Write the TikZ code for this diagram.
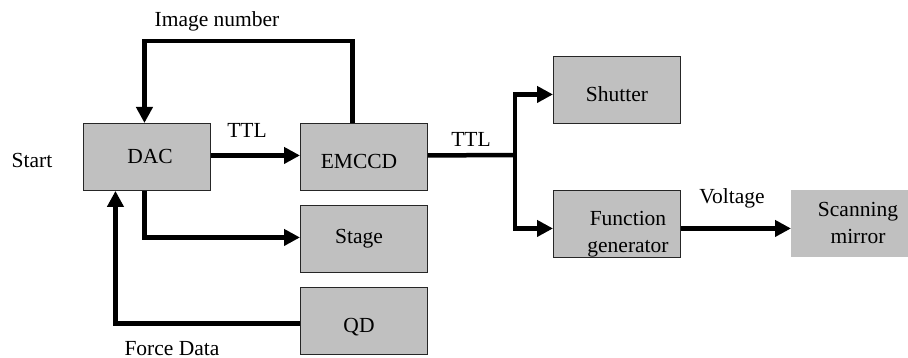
\documentclass[tikz,border=0pt]{standalone}
\usepackage{fontspec}
\setmainfont{Liberation Serif}
\newfontfamily\timesfont{Liberation Serif}
\usetikzlibrary{arrows.meta}
\definecolor{boxgray}{RGB}{192,192,192}
\begin{document}
\begin{tikzpicture}[x=1pt,y=-1pt,
  box/.style={draw=black!85,line width=0.9pt,fill=boxgray,minimum width=127pt,minimum height=67pt,inner sep=0pt,anchor=north west},
  txt/.style={inner sep=0pt,anchor=base,font=\timesfont\fontsize{21.5}{27}\selectfont},
  wire/.style={line width=4.5pt,line join=miter},
  conn/.style={wire,-{Triangle[length=16pt,width=16pt]}}]
\useasboundingbox (0,0) rectangle (908,358);
% boxes
\node[box] (dac) at (83,123) {};
\node[box] (emccd) at (300,123) {};
\node[box] (stage) at (300,205) {};
\node[box] (qd) at (300,287) {};
\node[box] (shutter) at (553,56) {};
\node[box] (fg) at (553,190) {};
\node[box,draw=none,minimum width=117pt] (sm) at (791,190) {};
% box texts
\node[txt] (tdac) at (150,164) {DAC};
\node[txt] (temccd) at (359,169) {EMCCD};
\node[txt] (tstage) at (359,244) {Stage};
\node[txt] (tqd) at (359,332) {QD};
\node[txt] (tshutter) at (617,102) {Shutter};
\node[txt] (tfg1) at (628,226) {Function};
\node[txt] (tfg2) at (628,253) {generator};
\node[txt] (tsm1) at (858,217) {Scanning};
\node[txt] (tsm2) at (858,244) {mirror};
% labels
\node[txt] (lstart) at (32,168) {Start};
\node[txt] (limg) at (217,27) {Image number};
\node[txt] (lttl1) at (247,138) {TTL};
\node[txt] (lttl2) at (471,147) {TTL};
\node[txt] (lvolt) at (732,204) {Voltage};
\node[txt] (lforce) at (172,355) {Force Data};
% connectors
\coordinate (dacin) at ([xshift=-2.5pt]dac.north);
\coordinate (dacout) at ([xshift=-2.5pt]dac.south);
\coordinate (dacqd) at ([xshift=-31.5pt]dac.south);
\coordinate (emtop) at ([xshift=-11.5pt]emccd.north);
\coordinate (sp) at (515,155);
\draw[conn] ([yshift=1.5pt]dac.east) -- ([yshift=1.5pt]emccd.west);
\draw[conn] (emtop) -- ++(0,-82) -| (dacin);
\draw[conn] (dacout) |- ([yshift=1.5pt]stage.west);
\draw[conn] ([yshift=-2.5pt]qd.west) -| (dacqd);
\draw[wire] ([yshift=1.5pt]emccd.east) -- (sp);
\draw[conn] (sp) |- ([yshift=-4.5pt]shutter.west);
\draw[conn] (sp) |- ([yshift=-4.5pt]fg.west);
\draw[conn] ([yshift=-4.5pt]fg.east) -- ([yshift=-4.5pt]sm.west);
\end{tikzpicture}
\end{document}
